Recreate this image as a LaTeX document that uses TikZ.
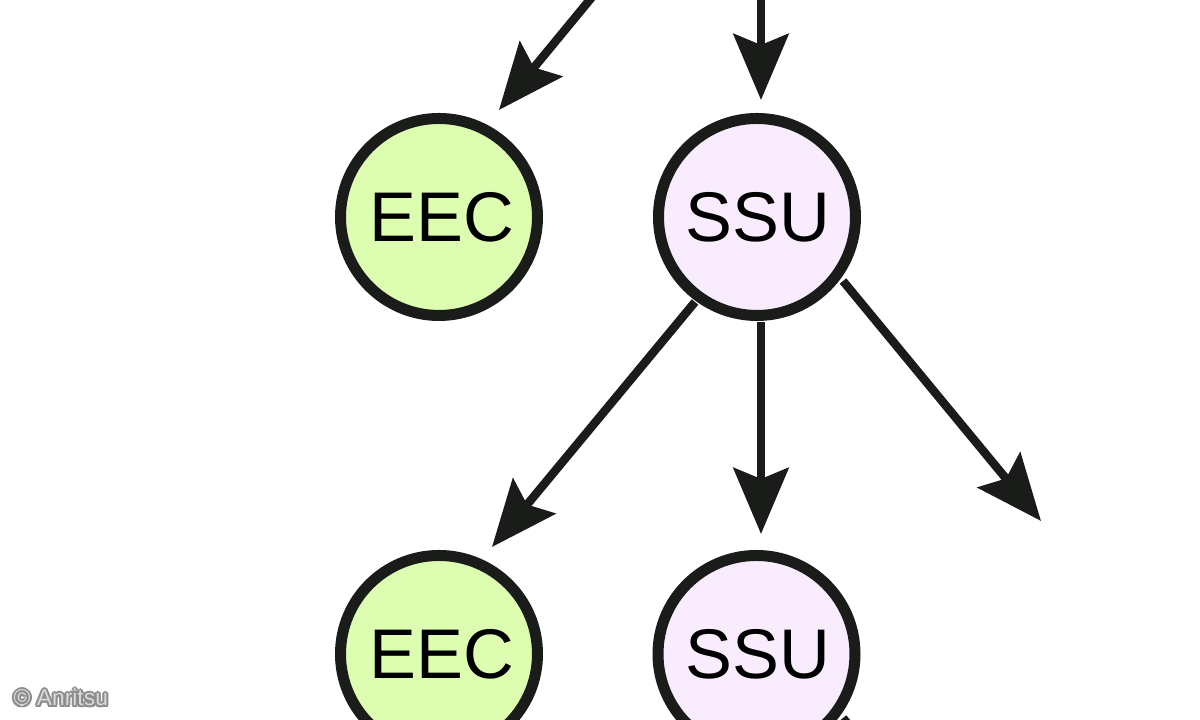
\documentclass[tikz,border=0pt]{standalone}
\usepackage{fontspec}
\setmainfont{Liberation Sans}
\usepackage{xcolor}
\usetikzlibrary{arrows.meta}
\definecolor{eecgreen}{HTML}{DDFDB0}
\definecolor{ssuviolet}{HTML}{F8ECFE}
\definecolor{darkline}{HTML}{1A1C1A}
\tikzset{
	unit/.style={circle,draw=darkline,line width=1.1mm,minimum size=19.7mm,inner sep=0pt,font=\fontsize{20}{24}\selectfont,text=black},
	eec/.style={unit,fill=eecgreen,execute at begin node=\hspace{0.6mm}},
	ssu/.style={unit,fill=ssuviolet,execute at begin node=\hspace{0.2mm}},
	shaft/.style={darkline,line width=0.85mm},
	link/.style={shaft,-{Stealth[length=6.6mm,width=5.5mm,inset=1.1mm]}},
	credit/.style={font=\fontsize{6.5}{8}\selectfont,inner sep=0pt,anchor=base west}
}
\begin{document}
\begin{tikzpicture}[transform shape,scale=1]
		\useasboundingbox (0,0) rectangle (12,7.2);
		\clip (0,0) rectangle (12,7.2);
		\fill[white] (0,0) rectangle (12,7.2);
		\node[eec] (eecA) at (4.39,5.03) {EEC};
		\node[ssu] (ssuA) at (7.57,5.03) {SSU};
		\node[eec] (eecB) at (4.39,0.66) {EEC};
		\node[ssu] (ssuB) at (7.565,0.66) {SSU};
		\coordinate (topleft) at (6.02,7.35);
		\coordinate (topmid) at (7.61,7.35);
		\coordinate (tipleft) at (4.99,6.10);
		\coordinate (tipmid) at (7.61,6.20);
		\coordinate (tipA) at (4.92,1.73);
		\coordinate (tipB) at (7.61,1.86);
		\coordinate (tipC) at (10.41,1.99);
		\coordinate (startB) at (7.61,3.98);
		\coordinate (startA) at (6.95,4.18);
		\coordinate (startC) at (8.43,4.39);
		\coordinate (startD) at (8.43,0.02);
		\coordinate (offpage) at (8.63,-0.22);
		\draw[link] (topleft) -- (tipleft);
		\draw[link] (topmid) -- (tipmid);
		\draw[link] (startA) -- (tipA);
		\draw[link] (startB) -- (tipB);
		\draw[link] (startC) -- (tipC);
		\draw[shaft] (startD) -- (offpage);
		\foreach \dx/\dy [count=\i] in {-.02/0,.02/0,0/-.02,0/.02,-.015/-.015,.015/-.015,-.015/.015,.015/.015}
			\node[credit,text=black!45] (halo\i) at (0.13+\dx,0.14+\dy) {\textcopyright\ Anritsu};
		\node[credit,text=black!15] (anritsu) at (0.13,0.14) {\textcopyright\ Anritsu};
	\end{tikzpicture}
\end{document}
